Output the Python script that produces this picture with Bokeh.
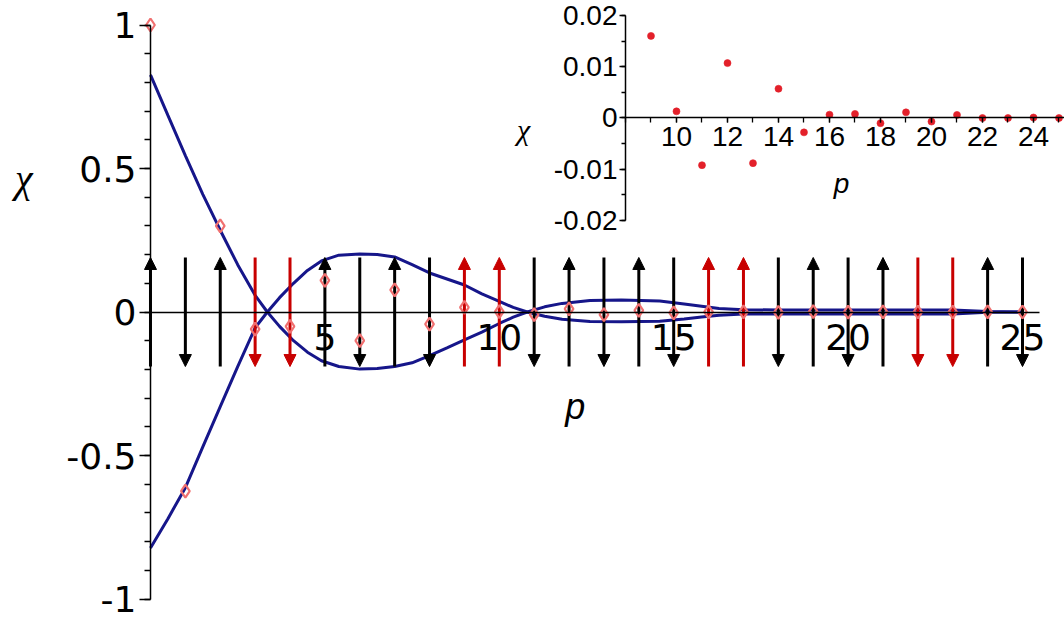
from bokeh.plotting import figure
from bokeh.models import (Range1d, LinearAxis, FixedTicker, Arrow, NormalHead,
                          ColumnDataSource, Label)
from bokeh.embed import file_html
from bokeh.resources import INLINE

# ---------------- data ----------------
p_vals = list(range(26))
chi_vals = [1.0, -0.624, 0.30, -0.06, -0.05, 0.11, -0.10, 0.077, -0.042, 0.016,
            0.0013, -0.0092, 0.0107, -0.0088, 0.0057, -0.0028, 0.00065, 0.0008,
            -0.001, 0.0011, -0.0007, 0.0006, 0.0, 0.0, 0.0001, 0.0]

inset_p = p_vals[9:]
inset_chi = chi_vals[9:]

env_p = [0, 0.5, 1.0, 1.5, 2.0, 2.5, 3.0, 3.35, 3.7, 4.1, 4.5, 4.9, 5.4, 6.0,
         6.5, 7.0, 7.5, 8.0, 8.5, 9.0, 9.5, 10.0, 10.4, 10.8, 11.3, 11.8, 12.6,
         13.5, 14.6, 15.3, 15.8, 16.3, 17.0, 18, 19, 20, 21, 22, 23, 24, 25]
curve_a = [0.826, 0.685, 0.545, 0.41, 0.285, 0.165, 0.058, 0.0, -0.05, -0.10,
           -0.14, -0.17, -0.19, -0.199, -0.197, -0.19, -0.177, -0.152, -0.125,
           -0.097, -0.07, -0.04, -0.018, 0.0, 0.018, 0.03, 0.04, 0.042, 0.038,
           0.028, 0.02, 0.012, 0.008, 0.007, 0.007, 0.007, 0.007, 0.007, 0.007,
           0.002, 0.0]
curve_b = [-0.822, -0.72, -0.612, -0.47, -0.33, -0.19, -0.055, 0.0, 0.05, 0.10,
           0.145, 0.178, 0.198, 0.202, 0.2, 0.192, 0.165, 0.136, 0.115, 0.094,
           0.063, 0.037, 0.016, 0.0, -0.015, -0.025, -0.033, -0.034, -0.032,
           -0.024, -0.017, -0.011, -0.007, -0.007, -0.007, -0.007, -0.007, -0.007,
           -0.007, -0.001, 0.0]

arrow_dir = ["up", "down", "up", "down", "down", "up", "down", "up", "down", "up",
             "up", "down", "up", "down", "up", "down", "up", "up", "down", "up",
             "down", "up", "down", "down", "up", "down"]
arrow_kind = ["k", "k", "k", "r", "r", "k", "k", "k", "k", "r", "r", "k", "k",
              "k", "k", "k", "r", "r", "k", "k", "k", "k", "r", "r", "k", "k"]

main_xticks = [5, 10, 15, 20, 25]
main_yticks = [-1, -0.5, 0, 0.5, 1]
main_ylabels = ["-1", "-0.5", "0", "0.5", "1"]
inset_xticks = [10, 12, 14, 16, 18, 20, 22, 24]
inset_yticks = [-0.02, -0.01, 0, 0.01, 0.02]
inset_ylabels = ["-0.02", "-0.01", "0", "0.01", "0.02"]

# ---------------- figure ----------------
FONT = "Liberation Sans"
MFONT = "DejaVu Sans"
p = figure(width=1064, height=619, x_range=Range1d(-4.300, 26.204),
           y_range=Range1d(-1.0714, 1.0854), output_backend="svg",
           toolbar_location=None, min_border=0)
p.outline_line_color = None
p.grid.visible = False
p.background_fill_color = "white"

p.extra_x_ranges = {"ix": Range1d(-16.51, 25.216)}
p.extra_y_ranges = {"iy": Range1d(-0.097758, 0.022904)}

# main axes
xa = p.xaxis[0]
xa.fixed_location = 0
xa.bounds = (0, 25.5)
xa.ticker = FixedTicker(ticks=main_xticks)
xa.major_tick_out = 0
xa.major_tick_in = 0
xa.minor_tick_out = 0
xa.major_label_standoff = 12
xa.major_label_text_font = MFONT
xa.major_label_text_font_size = "36px"
xa.major_label_text_color = "black"
xa.axis_line_width = 1.5
xa.axis_line_color = "black"

ya = p.yaxis[0]
ya.fixed_location = 0
ya.bounds = (-1, 1)
ya.ticker = FixedTicker(ticks=main_yticks,
                        minor_ticks=[round(-1 + 0.1 * i, 1) for i in range(21)])
ya.major_tick_out = 11
ya.major_tick_in = 0
ya.minor_tick_out = 6
ya.minor_tick_in = 0
ya.major_label_overrides = {t: s for t, s in zip(main_yticks, main_ylabels)}
ya.major_label_standoff = 3
ya.major_label_text_font = MFONT
ya.major_label_text_font_size = "36px"
ya.major_label_text_color = "black"
ya.axis_line_width = 1.5
ya.axis_line_color = "black"
ya.major_tick_line_width = 1.5
ya.minor_tick_line_width = 1.5

# inset axes
ixa = LinearAxis(x_range_name="ix", y_range_name="iy", fixed_location=0,
                 bounds=(8, 25.216),
                 ticker=FixedTicker(ticks=inset_xticks, minor_ticks=list(range(8, 26))),
                 major_tick_out=5, major_tick_in=0, minor_tick_out=5, minor_tick_in=0,
                 major_label_standoff=4, major_label_text_font=FONT,
                 major_label_text_font_size="28px", major_label_text_color="black",
                 axis_line_width=1.5, major_tick_line_width=1.3, minor_tick_line_width=1.3)
p.add_layout(ixa, "below")

iya = LinearAxis(x_range_name="ix", y_range_name="iy", fixed_location=8,
                 bounds=(-0.02, 0.02),
                 ticker=FixedTicker(ticks=inset_yticks,
                                    minor_ticks=[-0.02, -0.015, -0.01, -0.005, 0,
                                                 0.005, 0.01, 0.015, 0.02]),
                 major_tick_out=6, major_tick_in=0, minor_tick_out=4, minor_tick_in=0,
                 major_label_standoff=2, major_label_text_font=FONT,
                 major_label_text_font_size="28px", major_label_text_color="black",
                 axis_line_width=1.5, major_tick_line_width=1.3, minor_tick_line_width=1.3)
iya.major_label_overrides = {t: s for t, s in zip(inset_yticks, inset_ylabels)}
p.add_layout(iya, "left")

# envelope curves
NAVY = "#16168a"
p.line(env_p, curve_a, line_color=NAVY, line_width=3, level="image")
p.line(env_p, curve_b, line_color=NAVY, line_width=3, level="image")

# arrows
TOP, BOT = 0.19, -0.19
for kind, col in (("k", "#000000"), ("r", "#c80000")):
    xs, y0, y1 = [], [], []
    for pv, d, k in zip(p_vals, arrow_dir, arrow_kind):
        if k != kind:
            continue
        xs.append(pv)
        if d == "up":
            y0.append(BOT); y1.append(TOP)
        else:
            y0.append(TOP); y1.append(BOT)
    src = ColumnDataSource(dict(x=xs, y0=y0, y1=y1))
    arr = Arrow(x_start="x", y_start="y0", x_end="x", y_end="y1", source=src,
                line_color=col, line_width=3, level="underlay",
                end=NormalHead(size=12, fill_color=col, line_color=col, line_width=1))
    p.add_layout(arr)

# main points (hollow diamonds)
p.scatter(p_vals, chi_vals, marker="diamond", size=13, fill_color=None,
          line_color="#f07070", line_width=2.2)

# inset points
p.scatter(inset_p, inset_chi, x_range_name="ix", y_range_name="iy", marker="circle",
          size=7, fill_color="#e3202a", line_color="#e3202a", line_alpha=0.6)

# axis titles
p.add_layout(Label(x=-3.63, y=0.465, text="χ", text_align="center",
                   text_baseline="alphabetic", text_font="Liberation Serif",
                   text_font_style="italic", text_font_size="40px", text_color="black"))
p.add_layout(Label(x=12.18, y=-0.329, text="p", text_align="center",
                   text_baseline="alphabetic", text_font=FONT,
                   text_font_style="italic", text_font_size="36px", text_color="black"))
p.add_layout(Label(x=4.0, y=-0.0022, x_range_name="ix", y_range_name="iy", text="χ",
                   text_align="center", text_baseline="alphabetic",
                   text_font="Liberation Serif", text_font_style="italic",
                   text_font_size="30px", text_color="black"))
p.add_layout(Label(x=16.47, y=-0.0128, x_range_name="ix", y_range_name="iy", text="p",
                   text_align="center", text_baseline="alphabetic", text_font=FONT,
                   text_font_style="italic", text_font_size="28px", text_color="black"))

open("out.html", "w").write(file_html(p, INLINE))
